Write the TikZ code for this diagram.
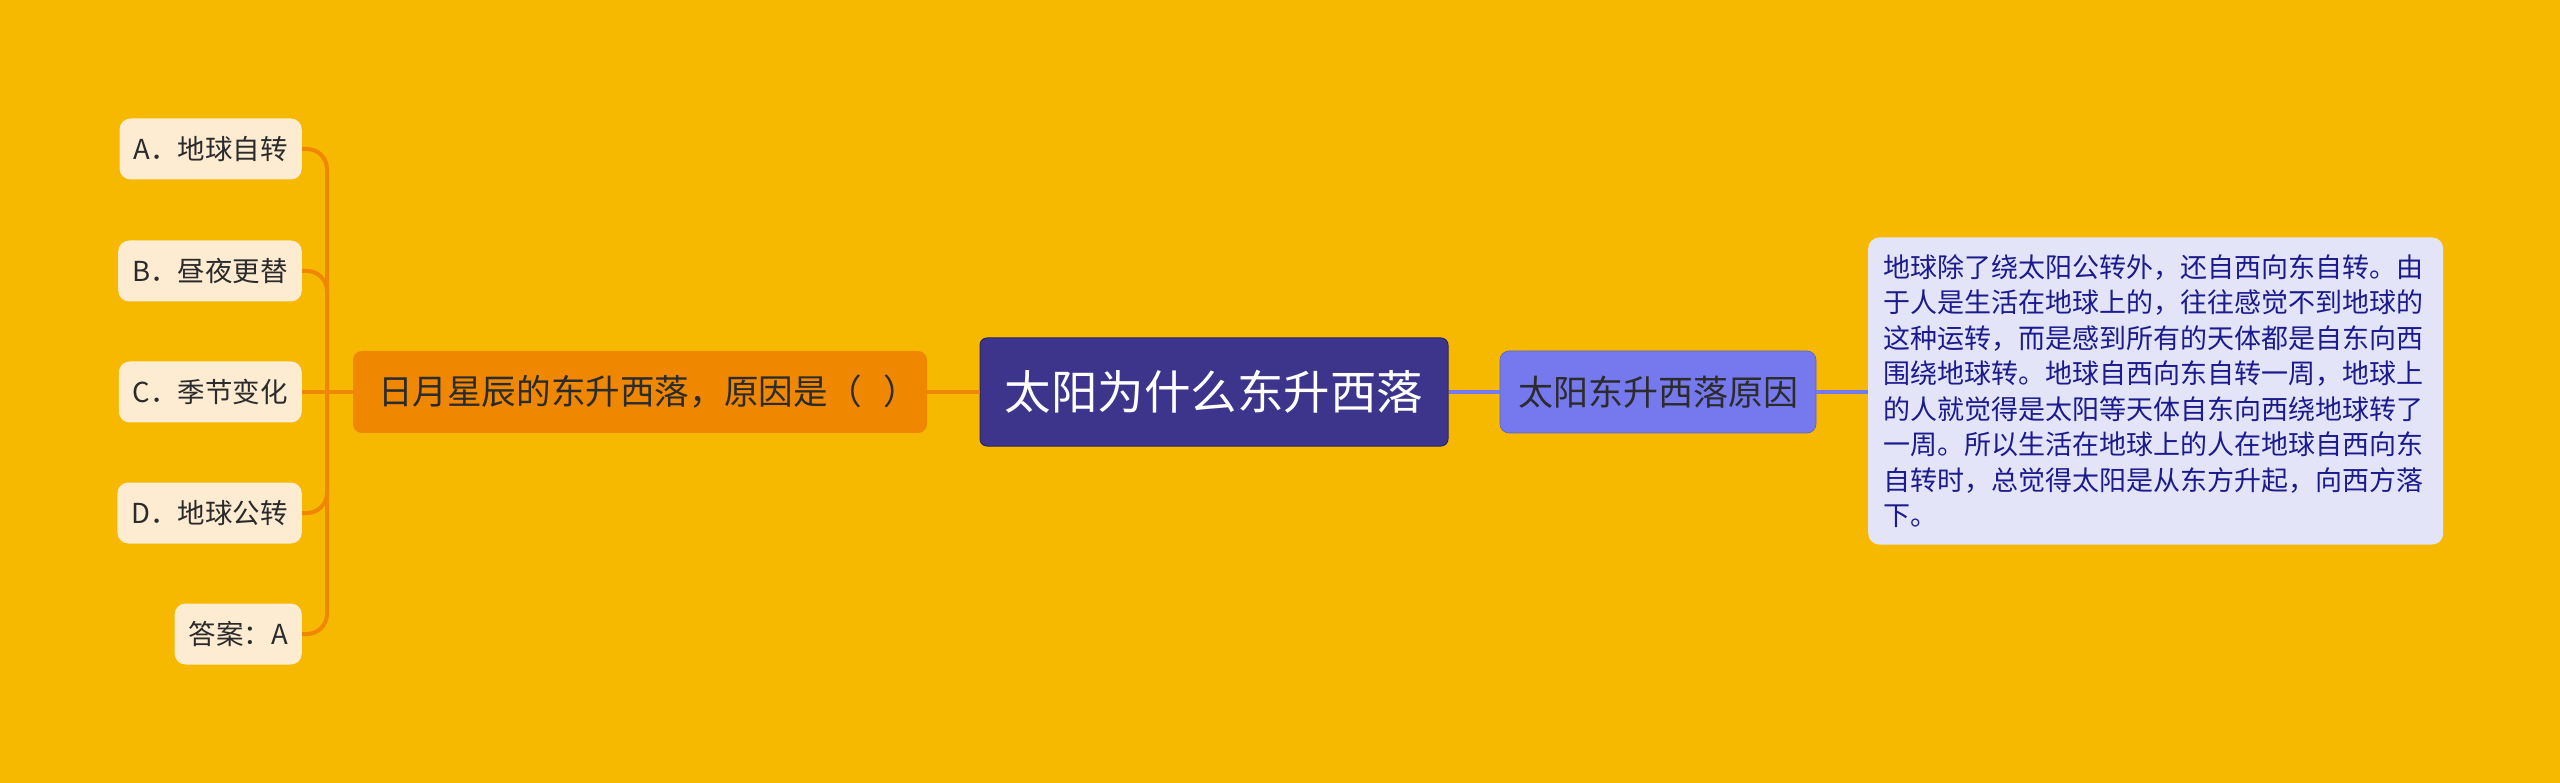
\documentclass[tikz,border=0pt]{standalone}
\usepackage{fontspec}
\setmainfont{Noto Sans CJK SC}
\definecolor{bgcol}{HTML}{F6B900}
\definecolor{rootcol}{HTML}{3D358B}
\definecolor{leftcol}{HTML}{EF8800}
\definecolor{leafcol}{HTML}{FDEBD2}
\definecolor{rightcol}{HTML}{7679EE}
\definecolor{notecol}{HTML}{E3E4F8}
\definecolor{notetext}{HTML}{1B1B8E}
\definecolor{inkcol}{HTML}{2B2B2B}
\tikzset{
  rootbox/.style={rectangle, rounded corners=7pt, fill=rootcol, draw=rootcol!70!black, line width=1pt, text=white, font=\fontsize{46.5}{54}\selectfont, minimum width=468pt, minimum height=108pt, inner sep=0pt},
  leftbox/.style={rectangle, rounded corners=9pt, fill=leftcol, text=inkcol, font=\fontsize{34.6}{40}\selectfont, text width=524pt, align=left, minimum height=82pt, inner xsep=25pt, inner ysep=0pt},
  leafbox/.style={rectangle, rounded corners=11pt, fill=leafcol, text=inkcol, font=\fontsize{27.5}{32}\selectfont, minimum height=61pt, inner xsep=14pt, inner ysep=0pt},
  rightbox/.style={rectangle, rounded corners=9pt, fill=rightcol, draw=rightcol!80!black, line width=0.6pt, text=inkcol, font=\fontsize{35}{40}\selectfont, minimum width=316pt, minimum height=82pt, inner sep=0pt},
  notebox/.style={rectangle, rounded corners=11pt, fill=notecol, text=notetext, font=\fontsize{27}{35.5}\selectfont, text width=545pt, align=left, minimum height=307pt, inner xsep=15pt, inner ysep=0pt},
  leftline/.style={draw=leftcol, line width=4pt},
  rightline/.style={draw=rightcol, line width=3.5pt}
}
\begin{document}
\begin{tikzpicture}[x=1pt,y=-1pt]
%background and size of the picture
\fill[bgcol] (0,0) rectangle (2560,783);
\useasboundingbox (0,0) rectangle (2560,783);

%central topic
\node[rootbox] (root) at (1214,392) {太阳为什么东升西落};

%left branch: the question
\node[leftbox] (quest) at (640,392) {\mbox{日月星辰的东升西落，原因是（\hspace{10pt} ）}};
\node[leafbox, anchor=east] (optA) at (302,149) {A．地球自转};
\node[leafbox, anchor=east] (optB) at (302,271) {B．昼夜更替};
\node[leafbox, anchor=east] (optC) at (302,392) {C．季节变化};
\node[leafbox, anchor=east] (optD) at (302,513) {D．地球公转};
\node[leafbox, anchor=east] (answer) at (302,634) {答案：A};
\coordinate (bus) at (327,392);

%right branch: the reason
\node[rightbox] (reason) at (1658,392) {太阳东升西落原因};
\node[notebox, anchor=west] (note) at (1868,391) {地球除了绕太阳公转外，还自西向东自转。由\\
于人是生活在地球上的，往往感觉不到地球的\\
这种运转，而是感到所有的天体都是自东向西\\
围绕地球转。地球自西向东自转一周，地球上\\
的人就觉得是太阳等天体自东向西绕地球转了\\
一周。所以生活在地球上的人在地球自西向东\\
自转时，总觉得太阳是从东方升起，向西方落\\
下。};

%connectors
\draw[leftline] (root.west) -- (quest.east);
\draw[leftline] (quest.west) -- (optC.east);
\draw[leftline, rounded corners=20pt] (bus) |- (optA.east);
\draw[leftline, rounded corners=20pt] (bus) |- (optB.east);
\draw[leftline, rounded corners=20pt] (bus) |- (optD.east);
\draw[leftline, rounded corners=20pt] (bus) |- (answer.east);
\draw[rightline] (root.east) -- (reason.west);
\draw[rightline] (reason.east) -- (note.west |- reason.east);

\end{tikzpicture}
\end{document}
